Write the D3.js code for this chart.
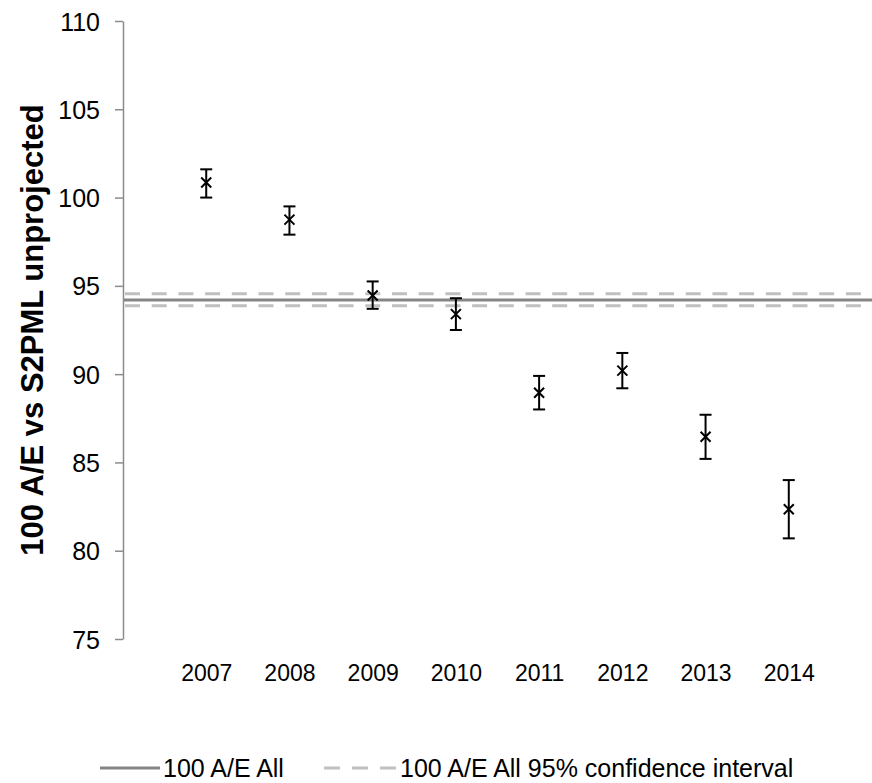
<!DOCTYPE html>
<html>
<head>
<meta charset="utf-8">
<script src="https://cdn.jsdelivr.net/npm/d3@7"></script>
<style>
  body { margin: 0; background: #fff; }
  svg { display: block; font-family: "Liberation Sans", Arial, sans-serif; }
</style>
</head>
<body>
<svg id="chart"></svg>
<script>
const years = ["2007", "2008", "2009", "2010", "2011", "2012", "2013", "2014"]
const aeValues = [100.85, 98.75, 94.45, 93.4, 88.95, 90.2, 86.45, 82.35]
const aeLower = [100.0, 97.9, 93.7, 92.5, 88.0, 89.2, 85.2, 80.7]
const aeUpper = [101.6, 99.5, 95.25, 94.3, 89.9, 91.2, 87.7, 84.0]
const allValue = 94.2
const allCI = [93.88, 94.56]
const yTicks = [75, 80, 85, 90, 95, 100, 105, 110]

const width = 872, height = 783
const margin = ({top: 21, right: 0, bottom: 144, left: 123})

const data = years.map((yr, i) => ({year: yr, value: aeValues[i], lo: aeLower[i], hi: aeUpper[i]}))

const x = d3.scalePoint()
    .domain(years)
    .range([margin.left, width - margin.right])
    .padding(1)

const y = d3.scaleLinear()
    .domain([75, 110])
    .range([height - margin.bottom, margin.top])

const svg = d3.select("#chart")
    .attr("width", width)
    .attr("height", height)
    .attr("viewBox", [0, 0, width, height])

const yAxis = g => g
    .attr("transform", `translate(${margin.left},0)`)
    .call(d3.axisLeft(y).tickValues(yTicks).tickSize(8).tickPadding(15).tickSizeOuter(0))
    .call(g => g.selectAll(".domain").attr("stroke", "#8c8c8c").attr("stroke-width", 1.5))
    .call(g => g.selectAll(".tick line").attr("stroke", "#8c8c8c").attr("stroke-width", 1.5))
    .call(g => g.selectAll(".tick text").attr("fill", "#000").attr("font-size", 25).attr("dy", "0.36em"))
    .attr("font-family", null)

const xAxis = g => g
    .attr("transform", `translate(0,${height - margin.bottom})`)
    .call(d3.axisBottom(x).tickSize(0).tickPadding(26))
    .call(g => g.select(".domain").remove())
    .call(g => g.selectAll(".tick text").attr("fill", "#000").attr("font-size", 23))
    .attr("font-family", null)

svg.append("g").call(yAxis)
svg.append("g").call(xAxis)

// reference lines: overall A/E and its 95% CI
svg.append("g")
    .attr("stroke", "#c0c0c0")
    .attr("stroke-width", 3)
    .attr("stroke-dasharray", "15,11.7")
    .selectAll("line")
    .data(allCI)
    .join("line")
    .attr("x1", margin.left + 2)
    .attr("x2", width)
    .attr("y1", d => y(d))
    .attr("y2", d => y(d))

svg.append("line")
    .attr("stroke", "#858585")
    .attr("stroke-width", 3)
    .attr("x1", margin.left + 1)
    .attr("x2", width)
    .attr("y1", y(allValue))
    .attr("y2", y(allValue))

// error bars
const bars = svg.append("g")
    .attr("stroke", "#000")
    .attr("stroke-width", 2)
    .selectAll("g")
    .data(data)
    .join("g")

bars.append("line")
    .attr("x1", d => x(d.year)).attr("x2", d => x(d.year))
    .attr("y1", d => y(d.lo)).attr("y2", d => y(d.hi))
bars.append("line")
    .attr("x1", d => x(d.year) - 6).attr("x2", d => x(d.year) + 6)
    .attr("y1", d => y(d.hi)).attr("y2", d => y(d.hi))
bars.append("line")
    .attr("x1", d => x(d.year) - 6).attr("x2", d => x(d.year) + 6)
    .attr("y1", d => y(d.lo)).attr("y2", d => y(d.lo))

// x markers
const m = 5
bars.append("path")
    .attr("fill", "none")
    .attr("d", d => {
        const cx = x(d.year), cy = y(d.value)
        return `M${cx - m},${cy - m}L${cx + m},${cy + m}M${cx - m},${cy + m}L${cx + m},${cy - m}`
    })

// y axis title
svg.append("text")
    .attr("transform", `translate(43,${(y(75) + y(110)) / 2}) rotate(-90)`)
    .attr("text-anchor", "middle")
    .attr("font-size", 31)
    .attr("font-weight", "bold")
    .text("100 A/E vs S2PML unprojected")

// legend
const ly = 768
const legend = svg.append("g").attr("font-size", 25)
legend.append("line")
    .attr("x1", 100).attr("x2", 160).attr("y1", ly).attr("y2", ly)
    .attr("stroke", "#858585").attr("stroke-width", 3)
legend.append("text")
    .attr("x", 163).attr("y", ly).attr("dy", "0.35em")
    .text("100 A/E All")
legend.append("line")
    .attr("x1", 324).attr("x2", 396).attr("y1", ly).attr("y2", ly)
    .attr("stroke", "#c0c0c0").attr("stroke-width", 3)
    .attr("stroke-dasharray", "16,12")
legend.append("text")
    .attr("x", 400).attr("y", ly).attr("dy", "0.35em")
    .text("100 A/E All 95% confidence interval")
</script>
</body>
</html>
